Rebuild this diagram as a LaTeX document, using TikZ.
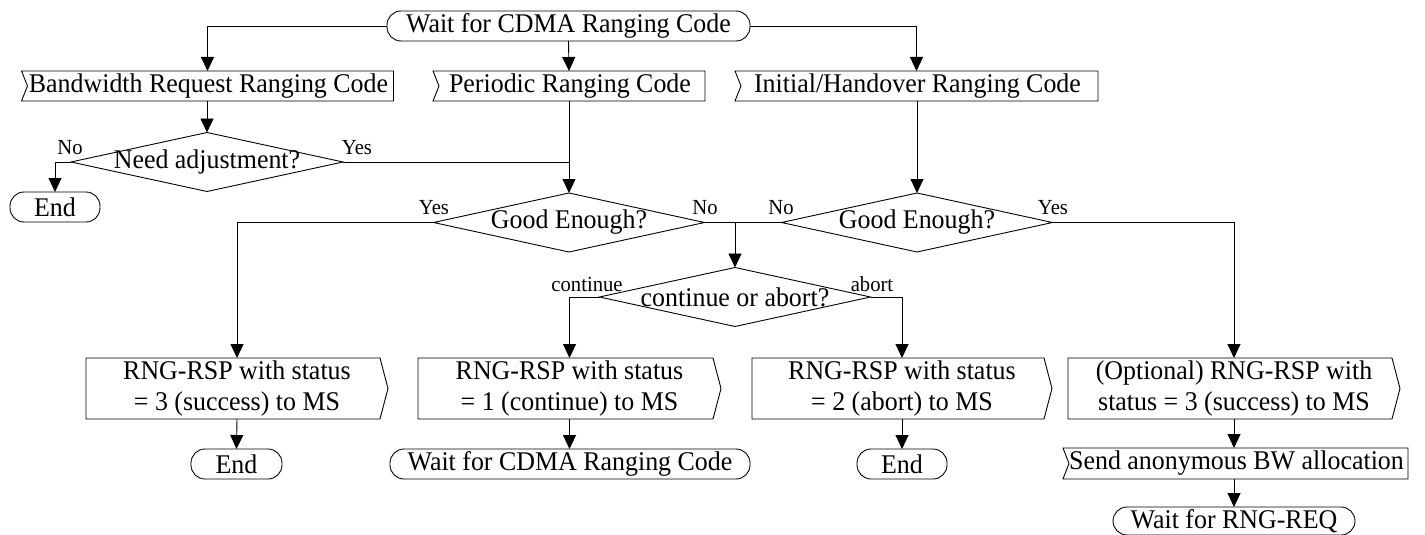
\documentclass[tikz,border=0pt]{standalone}
\usepackage{fontspec}
\setmainfont[FakeStretch=0.96]{Liberation Serif}
\usetikzlibrary{arrows.meta,calc}
\begin{document}
\begin{tikzpicture}[x=1pt,y=-1pt,
  line width=0.9pt,
  base/.style={draw=none,inner sep=0pt,outer sep=0pt,font=\fontsize{27}{31}\selectfont,align=center},
  term/.style={base,draw,rounded corners=14pt,minimum height=30pt},
  inbox/.style={base,minimum height=30pt},
  outbox/.style={base,minimum height=61pt},
  decision/.style={base,minimum height=59pt,minimum width=271pt},
  lbl/.style={inner sep=0pt,font=\fontsize{21.5}{23}\selectfont},
  arr/.style={-{Triangle[length=14pt,width=13pt]}}
]
\useasboundingbox (0,0) rectangle (1425,535);

% terminators
\node[term,minimum width=363pt] (start) at (568.5,26) {Wait for CDMA Ranging Code};
\node[term,minimum width=90pt] (end1) at (55,207) {End};
\node[term,minimum width=91pt] (end2) at (236.5,464) {End};
\node[term,minimum width=360pt] (wait2) at (570,464) {Wait for CDMA Ranging Code};
\node[term,minimum width=90pt] (end3) at (902,464) {End};
\node[term,minimum width=242pt,minimum height=28pt] (wrr) at (1234,521) {Wait for RNG-REQ};

% left-notched boxes
\node[inbox,minimum width=372pt] (brrc) at (207.5,86) {\hspace*{2pt}Bandwidth Request Ranging Code};
\node[inbox,minimum width=272pt] (prc) at (569,86) {\hspace*{2pt}Periodic Ranging Code};
\node[inbox,minimum width=363pt] (ihrc) at (916.5,86) {\hspace*{2pt}Initial/Handover Ranging Code};
\node[inbox,minimum width=345pt,minimum height=31pt] (send) at (1235.5,463.5) {\hspace*{2pt}Send anonymous BW allocation};
\foreach \n in {brrc,prc,ihrc,send}
  \draw (\n.north west) -- (\n.north east) -- (\n.south east) -- (\n.south west)
        -- ([xshift=6pt]\n.west) -- cycle;

% decisions
\node[decision,minimum width=272pt] (need) at (207,162) {Need adjustment?};
\node[decision] (ge1) at (569,222.5) {Good Enough?};
\node[decision] (ge2) at (917,222.5) {Good Enough?};
\node[decision] (coa) at (735,297) {continue or abort?};
\foreach \n in {need,ge1,ge2,coa}
  \draw (\n.north) -- (\n.east) -- (\n.south) -- (\n.west) -- cycle;

% right-pointed boxes
\node[outbox,minimum width=302pt] (rsp1) at (237,388.5) {RNG-RSP with status\\= 3 (success) to MS};
\node[outbox,minimum width=303pt] (rsp2) at (569.5,388.5) {RNG-RSP with status\\= 1 (continue) to MS};
\node[outbox,minimum width=300pt] (rsp3) at (902,388.5) {RNG-RSP with status\\= 2 (abort) to MS};
\node[outbox,minimum width=332pt] (rsp4) at (1234,388.5) {(Optional) RNG-RSP with\\status = 3 (success) to MS};
\foreach \n in {rsp1,rsp2,rsp3,rsp4}
  \draw (\n.north west) -- ([xshift=-8pt]\n.north east) -- (\n.east)
        -- ([xshift=-8pt]\n.south east) -- (\n.south west) -- cycle;

% labels
\node[lbl] (l1) at (70,148) {No};
\node[lbl] (l2) at (357,148) {Yes};
\node[lbl] (l3) at (434,208) {Yes};
\node[lbl] (l4) at (705,208) {No};
\node[lbl] (l5) at (781,208) {No};
\node[lbl] (l6) at (1053,208) {Yes};
\node[lbl] (l7) at (587,284) {continue};
\node[lbl] (l8) at (872,284) {abort};

% connectors
\draw[arr] (start.west) -| (brrc.north);
\draw[arr] (start.south) -- (prc.north);
\draw[arr] (start.east) -| (ihrc.north);
\draw[arr] (brrc.south -| need.north) -- (need.north);
\draw[arr] (need.west) -| (end1.north);
\draw (need.east) -- (need.east -| prc.south);
\draw[arr] (prc.south) -- (ge1.north);
\draw[arr] (ihrc.south -| ge2.north) -- (ge2.north);
\draw[arr] (ge1.west) -| (rsp1.north);
\draw[arr] (ge2.east) -| (rsp4.north);
\coordinate (j) at (ge1.east -| coa.north);
\draw (ge1.east) -- (ge2.west);
\draw[arr] (j) -- (coa.north);
\draw[arr] (coa.west) -| (rsp2.north);
\draw[arr] (coa.east) -| (rsp3.north);
\draw[arr] (rsp1.south) -- (end2.north);
\draw[arr] (rsp2.south) -- (rsp2.south |- wait2.north);
\draw[arr] (rsp3.south) -- (end3.north);
\draw[arr] (rsp4.south) -- (rsp4.south |- send.north);
\draw[arr] (send.south -| wrr.north) -- (wrr.north);
\end{tikzpicture}
\end{document}
